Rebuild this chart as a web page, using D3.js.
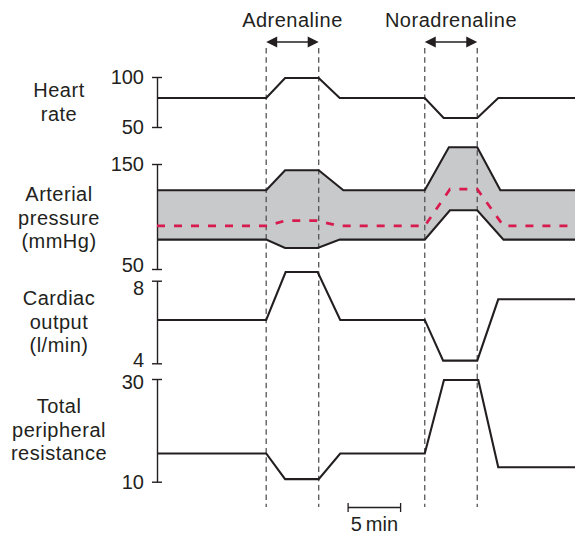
<!DOCTYPE html>
<html>
<head>
<meta charset="utf-8">
<script src="https://cdn.jsdelivr.net/npm/d3@7"></script>
<style>
  html, body { margin: 0; padding: 0; background: #fff; }
  svg { display: block; font-family: "Liberation Sans", Arial, sans-serif; }
</style>
</head>
<body>
<svg id="chart" width="575" height="534"></svg>
<script>
// Time in minutes from the start of the recording
const drugs = ["Adrenaline", "Noradrenaline"];
const drugStart = [10.4, 25.5];
const drugEnd = [15.4, 30.5];

// Heart rate (beats/min)
const hrTime  = [0, 10.4, 12.2, 15.4, 17.4, 25.5, 27.3, 30.5, 32.5, 40];
const hrValue = [79, 79, 99, 99, 79, 79, 59, 59, 79, 79];

// Arterial pressure (mmHg): systolic, diastolic and mean
const sysTime  = [0, 10.4, 12.2, 15.4, 17.75, 25.5, 27.8, 30.5, 32.7, 40];
const sysValue = [125, 125, 144, 144, 125, 125, 166, 166, 125, 125];
const diaTime  = [0, 10.4, 12.2, 15.3, 17.4, 25.5, 27.9, 30.5, 33.0, 40];
const diaValue = [78, 78, 70, 70, 78, 78, 106, 106, 78, 78];
const meanTime  = [0, 10.4, 12.2, 15.2, 17.4, 25.5, 27.9, 30.5, 33.0, 40];
const meanValue = [91, 91, 96, 96, 91, 91, 126, 126, 91, 91];

// Cardiac output (l/min)
const coTime  = [0, 10.4, 12.25, 15.3, 17.45, 25.5, 27.25, 30.5, 32.5, 40];
const coValue = [6.1, 6.1, 8.42, 8.42, 6.1, 6.1, 4.13, 4.13, 7.1, 7.1];

// Total peripheral resistance
const tprTime  = [0, 10.4, 12.2, 15.4, 17.45, 25.5, 27.33, 30.6, 32.5, 40];
const tprValue = [15.5, 15.5, 10.5, 10.5, 15.5, 15.5, 29.8, 29.8, 12.8, 12.8];

// Panel labels and axis ticks
const panelLabels = [
  ["Heart", "rate"],
  ["Arterial", "pressure", "(mmHg)"],
  ["Cardiac", "output", "(l/min)"],
  ["Total", "peripheral", "resistance"]
];
const hrTicks = [50, 100];
const apTicks = [50, 150];
const coTicks = [4, 8];
const tprTicks = [10, 30];
const scaleBarStart = 18.2;
const scaleBarLength = 5;
const scaleBarLabel = "5\u2009min";

const svg = d3.select("#chart");
const ink = "#231f20";
const fontSize = 20;
const wordSpacing = "0.5px";

const x = d3.scaleLinear().domain([0, 40]).range([157, 577]);

// Panel layout; tickShift nudges end labels so neighbouring panels' labels don't collide
const panels = [
  { ticks: hrTicks,  y: d3.scaleLinear().domain([50, 100]).range([127, 77]),   labelY: 97,  tickShift: [0, 0] },
  { ticks: apTicks,  y: d3.scaleLinear().domain([50, 150]).range([269, 164]),  labelY: 201, tickShift: [-4, 0] },
  { ticks: coTicks,  y: d3.scaleLinear().domain([4, 8]).range([363.3, 280.7]), labelY: 305, tickShift: [-3.5, 7] },
  { ticks: tprTicks, y: d3.scaleLinear().domain([10, 30]).range([481.7, 379]), labelY: 413, tickShift: [0, 3.5] }
];

const zip = (t, v) => t.map((d, i) => [d, v[i]]);

// Arterial pressure band (between systolic and diastolic traces)
const ap = panels[1].y;
const bandPts = zip(sysTime, sysValue).concat(zip(diaTime, diaValue).reverse());
svg.append("path")
  .attr("d", d3.line().x(d => x(d[0])).y(d => ap(d[1]))(bandPts) + "Z")
  .attr("fill", "#c8c9cb")
  .attr("stroke", "none");

// Injection period markers
drugs.forEach((name, i) => {
  [drugStart[i], drugEnd[i]].forEach(t => {
    svg.append("line")
      .attr("x1", x(t)).attr("x2", x(t))
      .attr("y1", 48).attr("y2", 507)
      .attr("stroke", "#555")
      .attr("stroke-width", 1.3)
      .attr("stroke-dasharray", "5.5,3.8");
  });
  const x0 = x(drugStart[i]), x1 = x(drugEnd[i]), ay = 42, al = 11, ah = 5.5;
  svg.append("line")
    .attr("x1", x0 + al - 1).attr("x2", x1 - al + 1)
    .attr("y1", ay).attr("y2", ay)
    .attr("stroke", ink).attr("stroke-width", 1.3);
  svg.append("path")
    .attr("d", `M${x0},${ay}L${x0 + al},${ay - ah}L${x0 + al},${ay + ah}Z M${x1},${ay}L${x1 - al},${ay - ah}L${x1 - al},${ay + ah}Z`)
    .attr("fill", ink);
  svg.append("text")
    .attr("x", (x0 + x1) / 2)
    .attr("y", 26.5)
    .attr("text-anchor", "middle")
    .attr("font-size", fontSize)
    .attr("letter-spacing", wordSpacing)
    .attr("fill", ink)
    .text(name);
});

// Axes and panel titles
panels.forEach((p, i) => {
  const g = svg.append("g")
    .attr("transform", `translate(${x(0)},0)`)
    .call(d3.axisLeft(p.y).tickValues(p.ticks).tickFormat(d3.format("d"))
      .tickSizeInner(5).tickSizeOuter(0).tickPadding(8));
  g.select(".domain").attr("stroke", ink).attr("stroke-width", 1.4);
  g.selectAll(".tick line").attr("x1", -5).attr("x2", 5).attr("stroke", ink).attr("stroke-width", 1.4);
  g.selectAll(".tick text")
    .attr("font-size", fontSize)
    .attr("font-family", "Liberation Sans, Arial, sans-serif")
    .attr("fill", ink)
    .attr("y", (d, k) => p.tickShift[k]);

  const t = svg.append("text")
    .attr("text-anchor", "middle")
    .attr("font-size", fontSize)
    .attr("letter-spacing", wordSpacing)
    .attr("fill", ink);
  panelLabels[i].forEach((s, j) => {
    t.append("tspan").attr("x", 59).attr("y", p.labelY + j * 23.5).text(s);
  });
});

// Traces
const trace = (time, value, yScale) => d3.line().x(d => x(d[0])).y(d => yScale(d[1]))(zip(time, value));
const solid = [
  [hrTime, hrValue, panels[0].y],
  [sysTime, sysValue, panels[1].y],
  [diaTime, diaValue, panels[1].y],
  [coTime, coValue, panels[2].y],
  [tprTime, tprValue, panels[3].y]
];
solid.forEach(([t, v, ys]) => {
  svg.append("path")
    .attr("d", trace(t, v, ys))
    .attr("fill", "none")
    .attr("stroke", ink)
    .attr("stroke-width", 2.1)
    .attr("stroke-linejoin", "miter");
});
svg.append("path")
  .attr("d", trace(meanTime, meanValue, panels[1].y))
  .attr("fill", "none")
  .attr("stroke", "#d81b4e")
  .attr("stroke-width", 2.7)
  .attr("stroke-dasharray", "8,9");

// Time scale bar
const sb0 = x(scaleBarStart), sb1 = x(scaleBarStart + scaleBarLength), sy = 507.5;
svg.append("path")
  .attr("d", `M${sb0},${sy - 4.5}V${sy + 4.5}M${sb0},${sy}H${sb1}M${sb1},${sy - 4.5}V${sy + 4.5}`)
  .attr("fill", "none")
  .attr("stroke", ink)
  .attr("stroke-width", 1.3);
svg.append("text")
  .attr("x", (sb0 + sb1) / 2)
  .attr("y", 530.5)
  .attr("text-anchor", "middle")
  .attr("font-size", fontSize)
  .attr("fill", ink)
  .text(scaleBarLabel);
</script>
</body>
</html>
